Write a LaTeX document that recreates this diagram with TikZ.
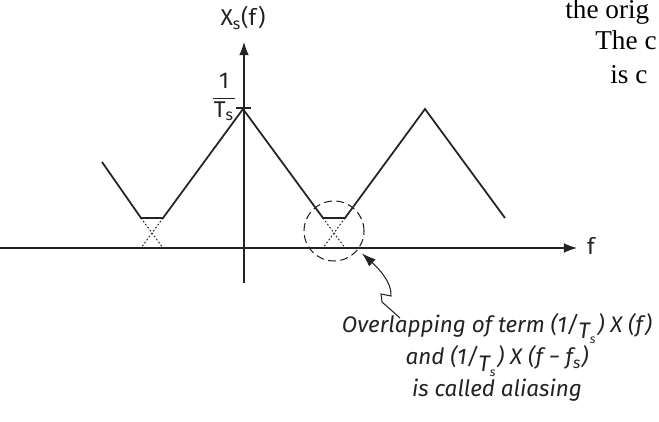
\documentclass[tikz,border=0pt]{standalone}
\usepackage{fontspec}
\setmainfont{Liberation Serif}
\newfontfamily\labelfont{Fira Sans}
\usetikzlibrary{arrows.meta,calc}
\definecolor{cink}{RGB}{35,35,35}
\newcommand{\invTs}{(1/\raisebox{-0.55ex}{T\raisebox{-0.45ex}{\scriptsize s}}\kern1pt)}

\begin{document}
\begin{tikzpicture}[x=0.02cm, y=-0.02cm,
  axis/.style={draw=cink, line width=0.6pt, -{Latex[length=7.5pt, width=5.5pt]}},
  spec/.style={draw=cink, line width=1pt},
  hidden/.style={draw=cink, line width=0.55pt, dash pattern=on 1pt off 1.1pt},
  lbl/.style={font=\labelfont\fontsize{13}{14}\selectfont, text=cink, inner sep=1pt},
  note/.style={font=\labelfont\itshape\fontsize{12.8}{15}\selectfont, align=center, text=cink},
  page/.style={font=\fontsize{15.5}{18}\selectfont, anchor=base west, inner sep=0pt},
  wiggle/.style={draw=cink, line width=0.6pt, -{Latex[length=8pt, width=5.5pt]}}]
\clip (0,0) rectangle (659,422);
\coordinate (xstart) at (0,248);
\coordinate (xend) at (577,248);
\coordinate (ystart) at (244,283);
\coordinate (yend) at (244,42);
\draw[axis] (xstart) -- (xend);
\draw[axis] (ystart) -- (yend);
\node[lbl] (xlbl) at (591,246) {f};
\node[lbl] (ylbl) at (243,18) {X\textsubscript{s}(f)};
\draw[cink, line width=0.6pt] (236,108) -- (251,108);
\node[lbl, align=center] (unit) at (224,97) {1\\[-8pt]\rule{12pt}{0.6pt}\\[-4pt]T\textsubscript{s}};
\draw[spec] (102,162) -- (141,218) -- (163,218) -- (243,109) -- (323,218)
  -- (345,218) -- (425,109) -- (505,218);
\draw[hidden] (141,218) -- (163,248) (163,218) -- (141,248);
\draw[hidden] (323,218) -- (345,248) (345,218) -- (323,248);
\node[draw=cink, dashed, dash pattern=on 4.5pt off 2.5pt, line width=0.6pt,
  circle, minimum size=1.2cm] (alias) at (334,231) {};
\node[note] (caption) at (497,357) {Overlapping of term \invTs\ X (f)\\
  and \invTs\ X (f − f\textsubscript{s})\\is called aliasing};
\coordinate (tail) at (400,318);
\draw[wiggle, shorten >=3pt] (tail) -- (382,302) -- (381,294) -- (391,296)
  .. controls (392,282) and (378,268) .. (alias.-38);
\node[page] (pg1) at (565,19) {the orig};
\node[page] (pg2) at (595,50) {The c};
\node[page] (pg3) at (610,84) {is c};
\end{tikzpicture}
\end{document}
